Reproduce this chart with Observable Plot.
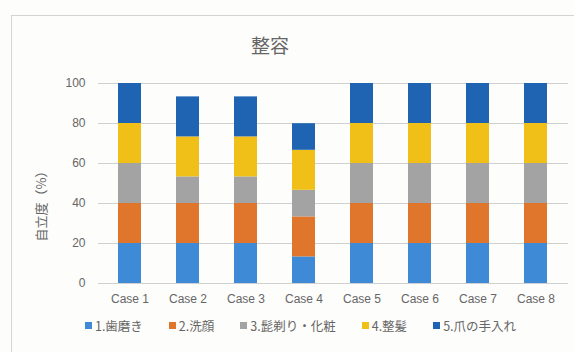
<!DOCTYPE html>
<html>
<head>
<meta charset="utf-8">
<script src="https://cdn.jsdelivr.net/npm/d3@7"></script>
<script src="https://cdn.jsdelivr.net/npm/@observablehq/plot@0.6"></script>
<style>
  html, body { margin: 0; padding: 0; background: #fdfdfb; }
  #wrap { position: relative; width: 574px; height: 352px; overflow: hidden;
          font-family: "Liberation Sans", "Noto Sans CJK JP", sans-serif; color: #595959; }
  #frame { position: absolute; left: 11px; top: 15px; width: 620px; height: 400px;
           border: 1px solid #d4d4d4; box-sizing: border-box; }
  #title { position: absolute; left: 0; top: 31px; width: 540px; text-align: center;
           font-size: 19px; font-family: "Noto Sans CJK JP", sans-serif; color: #666; }
  #ylab { position: absolute; left: 40px; top: 203px; transform: translate(-50%, -50%) rotate(-90deg);
          white-space: nowrap; font-size: 13px; font-family: "Noto Sans CJK JP", sans-serif; color: #666; }
  #chart { position: absolute; left: 0; top: 0; }
  #legend { position: absolute; left: 0; top: 316px; width: 574px; display: flex; justify-content: center;
            padding-left: 27px; box-sizing: border-box;
            gap: 26px; font-size: 12.5px; font-family: "Noto Sans CJK JP", sans-serif; color: #666; }
  .item { display: flex; align-items: center; gap: 3px; }
  .sw { width: 7px; height: 7px; display: inline-block; }
</style>
</head>
<body>
<div id="wrap">
  <div id="frame"></div>
  <div id="title"></div>
  <div id="ylab"></div>
  <div id="chart"></div>
  <div id="legend"></div>
</div>
<script>
const titleText = "整容";
const yLabel = "自立度（%）";
const cases = ["Case 1", "Case 2", "Case 3", "Case 4", "Case 5", "Case 6", "Case 7", "Case 8"];
const seriesNames = ["1.歯磨き", "2.洗顔", "3.髭剃り・化粧", "4.整髪", "5.爪の手入れ"];
const colors = ["#3f8ad6", "#e0752c", "#a3a3a3", "#f0c019", "#1f63b3"];
const s1 = [20, 20, 20, 13.3, 20, 20, 20, 20];
const s2 = [20, 20, 20, 20, 20, 20, 20, 20];
const s3 = [20, 13.3, 13.3, 13.3, 20, 20, 20, 20];
const s4 = [20, 20, 20, 20, 20, 20, 20, 20];
const s5 = [20, 20, 20, 13.3, 20, 20, 20, 20];
const yTicks = [0, 20, 40, 60, 80, 100];

const seriesValues = [s1, s2, s3, s4, s5];
const data = [];
seriesNames.forEach((s, i) => {
  cases.forEach((c, j) => data.push({case: c, series: s, value: seriesValues[i][j]}));
});

document.getElementById("title").textContent = titleText;
document.getElementById("ylab").textContent = yLabel;

const chart = Plot.plot({
  width: 574,
  height: 310,
  marginTop: 83,
  marginBottom: 27,
  marginLeft: 98,
  marginRight: 6,
  style: {background: "transparent", fontSize: "12px", color: "#666", fontFamily: "Liberation Sans, sans-serif"},
  x: {domain: cases, paddingInner: 0.6, paddingOuter: 0.3, label: null},
  y: {domain: [0, 100], label: null},
  color: {domain: seriesNames, range: colors},
  marks: [
    Plot.gridY(yTicks, {stroke: "#d0d0d0", strokeOpacity: 1, strokeWidth: 1}),
    Plot.barY(data, {x: "case", y: "value", fill: "series", order: seriesNames}),
    Plot.axisY({ticks: yTicks, tickSize: 0, tickPadding: 13, label: null}),
    Plot.axisX({tickSize: 0, tickPadding: 11, label: null})
  ]
});
document.getElementById("chart").appendChild(chart);

const legend = document.getElementById("legend");
seriesNames.forEach((s, i) => {
  const it = document.createElement("div");
  it.className = "item";
  const sw = document.createElement("span");
  sw.className = "sw";
  sw.style.background = colors[i];
  const t = document.createElement("span");
  t.textContent = s;
  it.appendChild(sw);
  it.appendChild(t);
  legend.appendChild(it);
});
</script>
</body>
</html>
